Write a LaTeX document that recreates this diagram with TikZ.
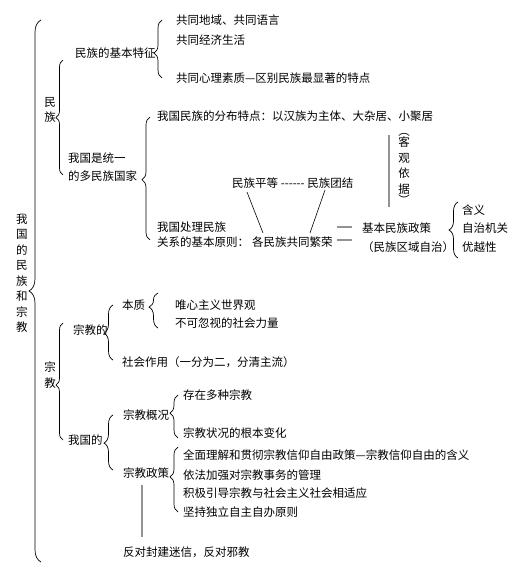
\documentclass[tikz,border=0pt]{standalone}
\usepackage{fontspec}
\setmainfont[Ligatures=NoCommon]{Noto Sans CJK SC}
\usetikzlibrary{decorations.pathreplacing,calc}
\begin{document}
\begin{tikzpicture}[x=1pt,y=-1pt,
  txt/.style={anchor=west,inner sep=0pt,font=\fontsize{11.5}{15}\selectfont},
  vtxt/.style={inner sep=0pt,align=center,font=\fontsize{11.5}{15.5}\selectfont},
  brc/.style={draw=black,line width=0.7pt,decorate},
  gline/.style={draw=gray!85,line width=2pt},
  thin/.style={draw=black,line width=0.6pt}]
\useasboundingbox (0,0) rectangle (521,575);
% title
\node[vtxt] (title) at (22,273) {我\\国\\的\\民\\族\\和\\宗\\教};
\draw[brc,decoration={brace,amplitude=12pt,aspect=0.5}] (41,562) -- (41,20);
% ---------- 民族 ----------
\node[vtxt] (mz) at (50,110) {民\\族};
\draw[brc,decoration={brace,amplitude=7pt,aspect=0.5}] (63,175) -- (63,60);
\node[txt] (tz) at (75,53) {民族的基本特征};
\draw[brc,decoration={brace,amplitude=8pt,aspect=0.43}] (162,78) -- (162,20);
\node[txt] (tz1) at (176,20) {共同地域、共同语言};
\node[txt] (tz2) at (176,40) {共同经济生活};
\node[txt] (tz3) at (176,78) {共同心理素质—区别民族最显著的特点};
\node[txt,align=left] (gj) at (68,167.5) {我国是统一\\[3pt]的多民族国家};
\draw[brc,decoration={brace,amplitude=8pt,aspect=0.49}] (150,240) -- (150,117);
\node[txt] (fb) at (157,116) {我国民族的分布特点：以汉族为主体、大杂居、小聚居};
\node[vtxt] (kg) at (404,170) {\smash{︵}\\[-4pt]客\\观\\依\\据\\[-4pt]\smash{︶}};
\coordinate (kgA) at (389,135);
\coordinate (kgB) at (389,207);
\draw[gline] (kgA) -- (kgB);
\node[txt,align=left] (yz) at (157,234.5) {我国处理民族\\关系的基本原则：};
\node[txt] (pd) at (232,183) {民族平等 {-}{-}{-}{-}{-}{-} 民族团结};
\node[txt] (fr) at (252,242) {各民族共同繁荣};
\coordinate (l1a) at (247,192);
\coordinate (l1b) at (263,233);
\coordinate (l2a) at (325,190);
\coordinate (l2b) at (310,233);
\draw[thin] (l1a) -- (l1b);
\draw[thin] (l2a) -- (l2b);
\coordinate (e1a) at (337,227);
\coordinate (e1b) at (352,227);
\coordinate (e2a) at (337,240);
\coordinate (e2b) at (352,240);
\draw[gline] (e1a) -- (e1b);
\draw[gline] (e2a) -- (e2b);
\node[txt] (zc) at (362,228) {基本民族政策};
\node[txt] (zz) at (362,247) {（民族区域自治）};
\draw[brc,decoration={brace,amplitude=9pt,aspect=0.5}] (458,258) -- (458,202);
\node[txt] (hy) at (462,210) {含义};
\node[txt] (zj) at (462,228) {自治机关};
\node[txt] (yy) at (462,247) {优越性};
% ---------- 宗教 ----------
\node[vtxt] (zjv) at (50,375) {宗\\教};
\draw[brc,decoration={brace,amplitude=7pt,aspect=0.47}] (63,440) -- (63,323);
\node[txt] (zjd) at (73,330) {宗教的};
\draw[brc,decoration={brace,amplitude=9pt,aspect=0.49}] (113,360) -- (113,305);
\node[txt] (bz) at (122,305) {本质};
\draw[brc,decoration={brace,amplitude=9pt,aspect=0.6}] (158,328) -- (158,293);
\node[txt] (wx) at (175,305) {唯心主义世界观};
\node[txt] (bk) at (175,323) {不可忽视的社会力量};
\node[txt] (sh) at (122,362) {社会作用（一分为二，分清主流）};
\node[txt] (wgd) at (68,440) {我国的};
\draw[brc,decoration={brace,amplitude=9pt,aspect=0.49}] (113,470) -- (113,415);
\node[txt] (gk) at (123,415) {宗教概况};
\draw[brc,decoration={brace,amplitude=8pt,aspect=0.58}] (178,438) -- (178,395);
\node[txt] (gk1) at (183,395) {存在多种宗教};
\node[txt] (gk2) at (183,433) {宗教状况的根本变化};
\node[txt] (zczc) at (123,473) {宗教政策};
\draw[brc,decoration={brace,amplitude=8pt,aspect=0.54}] (178,512) -- (178,447);
\node[txt] (p1) at (183,455) {全面理解和贯彻宗教信仰自由政策—宗教信仰自由的含义};
\node[txt] (p2) at (183,475) {依法加强对宗教事务的管理};
\node[txt] (p3) at (183,493) {积极引导宗教与社会主义社会相适应};
\node[txt] (p4) at (183,512) {坚持独立自主自办原则};
\node[txt] (fd) at (123,552) {反对封建迷信，反对邪教};
\coordinate (gA) at (142,485);
\coordinate (gB) at (142,537);
\draw[gline] (gA) -- (gB);
\end{tikzpicture}
\end{document}
